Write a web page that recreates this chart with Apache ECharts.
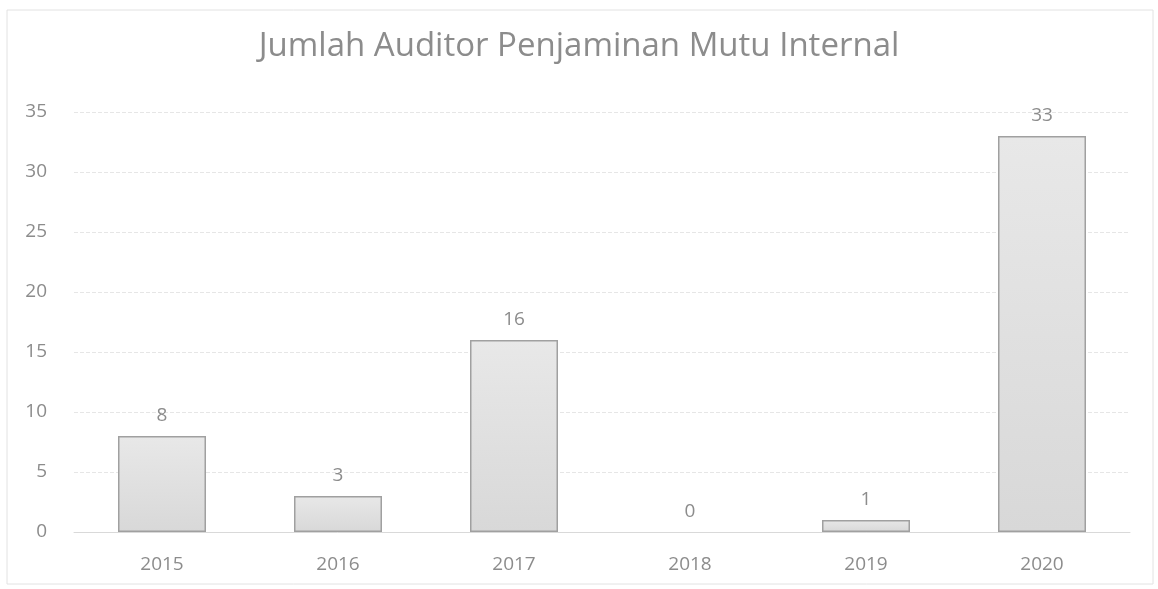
<!DOCTYPE html>
<html>
<head>
<meta charset="utf-8">
<script src="https://cdn.jsdelivr.net/npm/echarts@6/dist/echarts.min.js"></script>
<style>
  html, body { margin: 0; padding: 0; background: #fff; }
  #chart { width: 1158px; height: 589px; }
</style>
</head>
<body>
<div id="chart"></div>
<script>
// data
var years = ['2015', '2016', '2017', '2018', '2019', '2020'];
var auditors = [8, 3, 16, 0, 1, 33];

var chart = echarts.init(document.getElementById('chart'));
var fontFam = 'Open Sans';
// a zero bar shows no outline in the reference
var barData = auditors.map(function(v) {
	return v === 0 ? { value: v, itemStyle: { borderWidth: 0 } } : v;
});
chart.setOption({
	animation: false,
	title: {
		text: 'Jumlah Auditor Penjaminan Mutu Internal',
		left: 'center',
		top: 25,
		textStyle: { color: '#8c8c8c', fontSize: 33, fontWeight: 'normal', fontFamily: fontFam }
	},
	graphic: [{
		type: 'rect',
		shape: { x: 7, y: 10, width: 1146, height: 574 },
		style: { fill: 'none', stroke: '#e2e2e2', lineWidth: 1 },
		silent: true
	}],
	grid: { left: 74, right: 28, top: 112, bottom: 57 },
	xAxis: {
		type: 'category',
		data: years,
		axisLine: { show: true, lineStyle: { color: '#d9d9d9' } },
		axisTick: { show: false },
		axisLabel: { color: '#8c8c8c', fontSize: 19, margin: 23, fontFamily: fontFam }
	},
	yAxis: {
		type: 'value',
		min: 0,
		max: 35,
		interval: 5,
		axisLine: { show: false },
		axisTick: { show: false },
		axisLabel: { color: '#8c8c8c', fontSize: 19, margin: 27, fontFamily: fontFam },
		splitLine: { lineStyle: { color: '#e6e6e6', type: 'dashed' } }
	},
	series: [{
		type: 'bar',
		data: barData,
		barWidth: '50%',
		itemStyle: {
			color: new echarts.graphic.LinearGradient(0, 0, 0, 1, [
				{ offset: 0, color: '#e8e8e8' },
				{ offset: 1, color: '#d8d8d8' }
			]),
			borderColor: '#a0a0a0',
			borderWidth: 1.5
		},
		label: {
			show: true,
			position: 'top',
			distance: 11,
			color: '#8c8c8c',
			fontSize: 19,
			fontFamily: fontFam
		}
	}]
});
</script>
</body>
</html>
